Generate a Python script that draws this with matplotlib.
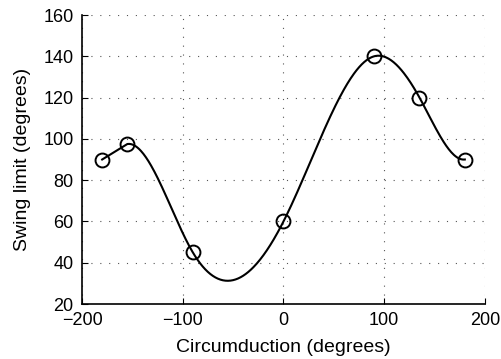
import numpy as np
import matplotlib.pyplot as plt

# control points (circles)
circum = [-180, -155, -90, 0, 90, 135, 180]
swing = [90, 97.5, 45, 60, 140, 120, 90]


# periodic cubic spline (period 360 deg), knots from -155 to 180
def periodic_spline(x, y, xx, period=360.0):
    x = np.asarray(x, float)
    y = np.asarray(y, float)
    n = len(x)
    xe = np.append(x, x[0] + period)
    ye = np.append(y, y[0])
    h = np.diff(xe)
    A = np.zeros((n, n))
    b = np.zeros(n)
    for i in range(n):
        hp = h[i - 1]
        hi = h[i]
        A[i, (i - 1) % n] += hp
        A[i, i] += 2 * (hp + hi)
        A[i, (i + 1) % n] += hi
        b[i] = 6 * ((ye[i + 1] - ye[i]) / hi - (ye[i] - ye[i - 1 if i > 0 else n - 1]) / hp)
    M = np.linalg.solve(A, b)
    M = np.append(M, M[0])
    out = np.empty_like(xx)
    for k, t in enumerate(xx):
        i = min(max(np.searchsorted(xe, t) - 1, 0), n - 1)
        a, c = xe[i], xe[i + 1]
        out[k] = (M[i] * (c - t) ** 3 / (6 * h[i]) + M[i + 1] * (t - a) ** 3 / (6 * h[i])
                  + (ye[i] / h[i] - M[i] * h[i] / 6) * (c - t)
                  + (ye[i + 1] / h[i] - M[i + 1] * h[i] / 6) * (t - a))
    return out


xx = np.linspace(circum[1], circum[-1], 400)
yy = periodic_spline(circum[1:], swing[1:], xx)
xx = np.concatenate([[circum[0]], xx])
yy = np.concatenate([[swing[0]], yy])

plt.rcParams['font.family'] = ['Liberation Sans', 'DejaVu Sans']
fig = plt.figure(figsize=(5.01, 3.59), dpi=100)
ax = fig.add_axes([0.1637, 0.1532, 0.8043, 0.8050])

ax.plot(xx, yy, color='black', lw=1.5)
ax.plot(circum, swing, 'o', mfc='none', mec='black', ms=10, mew=1.4)

ax.set_xlim(-200, 200)
ax.set_ylim(20, 160)
ax.set_xticks([-200, -100, 0, 100, 200])
ax.set_xticklabels(['\u2212200', '\u2212100', '0', '100', '200'])
ax.set_yticks(range(20, 161, 20))
ax.grid(True, color='#555555', linestyle=(0, (1, 7)), lw=0.8)
for s in ['top', 'right']:
    ax.spines[s].set_visible(False)
ax.spines['left'].set_linewidth(1.2)
ax.spines['bottom'].set_linewidth(1.2)
ax.tick_params(direction='in', length=4, labelsize=13)
ax.tick_params(axis='y', pad=6)
ax.tick_params(axis='x', pad=6)
ax.set_xlabel('Circumduction (degrees)', fontsize=14, labelpad=7)
ax.set_ylabel('Swing limit (degrees)', fontsize=14, labelpad=9)

fig.savefig('out.png', dpi=100)
